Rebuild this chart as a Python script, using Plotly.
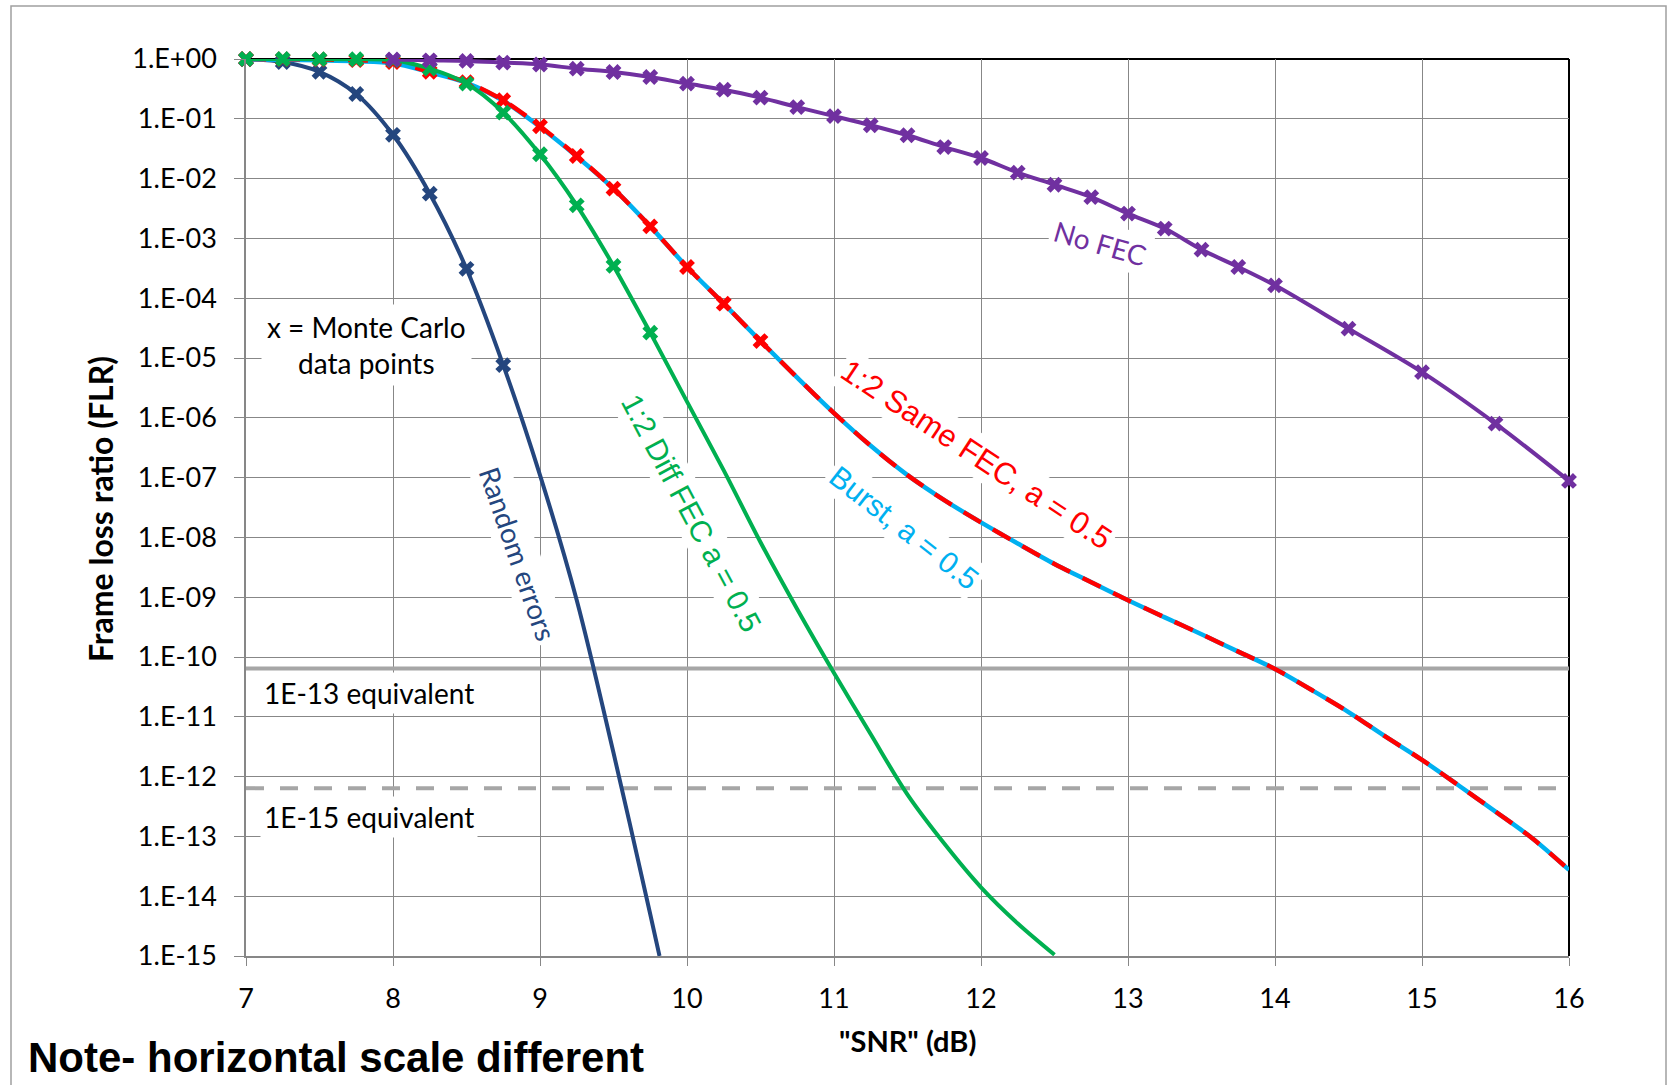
import plotly.graph_objects as go

# ---------------- data ----------------
# Analytical curves (SNR in dB, frame loss ratio)
random_snr = [7.0, 7.25, 7.5, 7.75, 8.0, 8.25, 8.5, 8.75, 9.0, 9.25, 9.5, 9.75, 9.813]
random_flr = [0.99, 0.89, 0.61, 0.26, 5.4e-2, 5.6e-3, 3.1e-4, 7.6e-6, 1.1e-7, 8.9e-10,
              2.5e-12, 5.0e-15, 1.0e-15]

diff_snr = [7.0, 7.25, 7.5, 7.75, 8.0, 8.25, 8.5, 8.75, 9.0, 9.25, 9.5, 9.75, 10.0,
            10.25, 10.5, 10.75, 11.0, 11.25, 11.5, 11.75, 12.0, 12.25, 12.5]
diff_flr = [1.0, 1.0, 0.995, 0.99, 0.955, 0.69, 0.388, 0.127, 2.55e-2, 3.57e-3, 3.47e-4,
            2.66e-5, 1.86e-6, 1.32e-7, 8.3e-9, 6.3e-10, 5.4e-11, 5.1e-12, 5.0e-13,
            7.6e-14, 1.41e-14, 3.5e-15, 1.05e-15]

same_snr = [7.0, 7.25, 7.5, 7.75, 8.0, 8.25, 8.5, 8.75, 9.0, 9.25, 9.5, 9.75, 10.0,
            10.25, 10.5, 10.75, 11.0, 11.25, 11.5, 11.75, 12.0, 12.25, 12.5, 12.75,
            13.0, 13.25, 13.5, 13.75, 14.0, 14.25, 14.5, 14.75, 15.0, 15.25, 15.5,
            15.75, 16.0]
same_flr = [1.0, 0.99, 0.98, 0.955, 0.89, 0.61, 0.41, 0.204, 7.5e-2, 2.39e-2, 6.8e-3,
            1.59e-3, 3.33e-4, 8.1e-5, 1.92e-5, 4.7e-6, 1.2e-6, 3.4e-7, 1.1e-7, 4.2e-8,
            1.78e-8, 7.9e-9, 3.6e-9, 1.78e-9, 8.9e-10, 4.6e-10, 2.4e-10, 1.23e-10,
            6.3e-11, 2.8e-11, 1.2e-11, 4.7e-12, 1.9e-12, 7.1e-13, 2.6e-13, 9.3e-14,
            2.75e-14]

burst_snr = same_snr
burst_flr = [0.99, 0.97, 0.95, 0.92, 0.85, 0.6, 0.4, 0.2, 7.3e-2, 2.35e-2, 6.8e-3,
             1.59e-3, 3.33e-4, 8.1e-5, 1.92e-5, 4.7e-6, 1.2e-6, 3.4e-7, 1.1e-7, 4.2e-8,
             1.78e-8, 7.9e-9, 3.6e-9, 1.78e-9, 8.9e-10, 4.6e-10, 2.4e-10, 1.23e-10,
             6.3e-11, 2.8e-11, 1.2e-11, 4.7e-12, 1.9e-12, 7.1e-13, 2.6e-13, 9.3e-14,
             2.75e-14]

nofec_snr = [8.0, 8.25, 8.5, 8.75, 9.0, 9.25, 9.5, 9.75, 10.0, 10.25, 10.5, 10.75, 11.0,
             11.25, 11.5, 11.75, 12.0, 12.25, 12.5, 12.75, 13.0, 13.25, 13.5, 13.75,
             14.0, 14.5, 15.0, 15.5, 16.0]
nofec_flr = [0.98, 0.95, 0.93, 0.87, 0.81, 0.69, 0.607, 0.5, 0.388, 0.307, 0.226, 0.157,
             0.111, 7.8e-2, 5.3e-2, 3.37e-2, 2.21e-2, 1.26e-2, 7.9e-3, 4.9e-3, 2.6e-3,
             1.46e-3, 6.5e-4, 3.33e-4, 1.64e-4, 3.1e-5, 5.8e-6, 8.0e-7, 8.8e-8]

# Monte Carlo data points
mc_random_snr = [7.0, 7.25, 7.5, 7.75, 8.0, 8.25, 8.5, 8.75]
mc_random_flr = [0.99, 0.89, 0.61, 0.26, 5.4e-2, 5.6e-3, 3.1e-4, 7.6e-6]

mc_diff_snr = [7.0, 7.25, 7.5, 7.75, 8.0, 8.25, 8.5, 8.75, 9.0, 9.25, 9.5, 9.75]
mc_diff_flr = [1.0, 1.0, 0.995, 0.99, 0.955, 0.69, 0.388, 0.127, 2.55e-2, 3.57e-3,
               3.47e-4, 2.66e-5]

mc_same_snr = [7.0, 7.25, 7.5, 7.75, 8.0, 8.25, 8.5, 8.75, 9.0, 9.25, 9.5, 9.75, 10.0,
               10.25, 10.5]
mc_same_flr = [1.0, 0.99, 0.98, 0.955, 0.89, 0.61, 0.41, 0.204, 7.5e-2, 2.39e-2, 6.8e-3,
               1.59e-3, 3.33e-4, 8.1e-5, 1.92e-5]

mc_nofec_snr = nofec_snr
mc_nofec_flr = nofec_flr

# Equivalent FLR thresholds
flr_1e13_equiv = 6.4e-11
flr_1e15_equiv = 6.4e-13

x_ticks = [7, 8, 9, 10, 11, 12, 13, 14, 15, 16]
y_tickvals = [1e0, 1e-1, 1e-2, 1e-3, 1e-4, 1e-5, 1e-6, 1e-7, 1e-8, 1e-9, 1e-10, 1e-11,
              1e-12, 1e-13, 1e-14, 1e-15]
y_ticktext = ["1.E+00", "1.E-01", "1.E-02", "1.E-03", "1.E-04", "1.E-05", "1.E-06",
              "1.E-07", "1.E-08", "1.E-09", "1.E-10", "1.E-11", "1.E-12", "1.E-13",
              "1.E-14", "1.E-15"]

# ---------------- style ----------------
C_RANDOM = "#24467E"
C_DIFF = "#00B050"
C_SAME = "#FF0000"
C_BURST = "#00B0F0"
C_NOFEC = "#7030A0"
C_REF = "#A6A6A6"
C_GRID = "#878787"

W, H = 1673, 1085
ML, MR, MT, MB = 246, 104, 59, 129
PW, PH = W - ML - MR, H - MT - MB

SANS = "Lato, 'Noto Sans', sans-serif"
ARIAL = "'Liberation Sans', Arial, sans-serif"


def px_x(p):
    return (p - ML) / PW


def px_y(p):
    return 1 - (p - MT) / PH


fig = go.Figure()

# threshold lines
fig.add_trace(go.Scatter(x=[x_ticks[0], x_ticks[-1]], y=[flr_1e13_equiv] * 2, mode="lines",
                         line=dict(color=C_REF, width=4), hoverinfo="skip"))
fig.add_trace(go.Scatter(x=[x_ticks[0], x_ticks[-1]], y=[flr_1e15_equiv] * 2, mode="lines",
                         line=dict(color=C_REF, width=4, dash="18px,16px"), hoverinfo="skip"))


def curve(xs, ys, color, width=4, dash=None):
    fig.add_trace(go.Scatter(x=xs, y=ys, mode="lines",
                             line=dict(color=color, width=width, shape="spline",
                                       smoothing=0.9, dash=dash)))


def points(xs, ys, color):
    fig.add_trace(go.Scatter(x=xs, y=ys, mode="markers", cliponaxis=False,
                             marker=dict(symbol="x", size=14, color=color,
                                         line=dict(width=0))))


curve(random_snr, random_flr, C_RANDOM)
points(mc_random_snr, mc_random_flr, C_RANDOM)
curve(burst_snr, burst_flr, C_BURST, width=4.5)
curve(same_snr, same_flr, C_SAME, width=4.5, dash="20px,14px")
points(mc_same_snr, mc_same_flr, C_SAME)
curve(diff_snr, diff_flr, C_DIFF)
points(mc_diff_snr, mc_diff_flr, C_DIFF)
curve(nofec_snr, nofec_flr, C_NOFEC)
points(mc_nofec_snr, mc_nofec_flr, C_NOFEC)

font_tick = dict(family=SANS, size=27, color="black")

fig.update_xaxes(range=[7, 16], tickvals=x_ticks, ticktext=[str(v) for v in x_ticks],
                 showgrid=True, gridcolor=C_GRID, gridwidth=1.3, zeroline=False,
                 showline=True, linecolor=C_GRID, linewidth=1.5,
                 ticks="outside", ticklen=8, tickcolor=C_GRID, tickwidth=1.3,
                 tickfont=font_tick, ticklabelstandoff=10)
fig.update_yaxes(type="log", range=[-15, 0], tickvals=y_tickvals, ticktext=y_ticktext,
                 showgrid=True, gridcolor=C_GRID, gridwidth=1.3, zeroline=False,
                 showline=True, linecolor=C_GRID, linewidth=1.5,
                 ticks="outside", ticklen=10, tickcolor=C_GRID, tickwidth=1.3,
                 tickfont=font_tick, ticklabelstandoff=12)

shapes = [
    # outer chart frame
    dict(type="rect", xref="paper", yref="paper", x0=px_x(11), x1=px_x(1666),
         y0=px_y(1100), y1=px_y(6), line=dict(color="#A0A0A0", width=1.5), layer="below"),
    # plot-area border (top and right)
    dict(type="line", xref="paper", yref="paper", x0=0, x1=1, y0=1, y1=1,
         line=dict(color="black", width=2), layer="between"),
    dict(type="line", xref="paper", yref="paper", x0=1, x1=1, y0=0, y1=1,
         line=dict(color="black", width=2), layer="between"),
]


def label(text, x, y, color="black", size=28, family=SANS, angle=0, bg=None,
          xanchor="center", pad=3, align="center"):
    return dict(text=text, x=px_x(x), y=px_y(y), xref="paper", yref="paper",
                showarrow=False, textangle=angle, xanchor=xanchor, yanchor="middle",
                font=dict(family=family, size=size, color=color), align=align,
                bgcolor=bg, borderpad=pad)


annotations = [
    label("<b>Frame loss ratio (FLR)</b>", 100, 509, size=32, angle=-90),
    label("<b>\"SNR\" (dB)</b>", 907, 1040, size=29),
    label("<b>Note- horizontal scale different</b>", 24, 1057, size=42, family=ARIAL,
          xanchor="left"),
    label("x = Monte Carlo<br>data points", 366, 345, bg="white", pad=5),
    label("1E-13 equivalent", 260, 693, bg="white", xanchor="left"),
    label("1E-15 equivalent", 260, 817, bg="white", xanchor="left"),
    label("Random errors", 518, 553, color=C_RANDOM, angle=71, bg="white"),
    label("1:2 Diff FEC a = 0.5", 692, 513, color=C_DIFF, size=30, family=ARIAL,
          angle=62, bg="white"),
    label("1:2 Same FEC, a = 0.5", 976, 455, color=C_SAME, size=31, family=ARIAL,
          angle=33.4, bg="white"),
    label("Burst, a = 0.5", 904, 527, color=C_BURST, size=30, family=ARIAL,
          angle=38, bg="white"),
    label("No FEC", 1100, 243, color=C_NOFEC, size=28, angle=16, bg="white"),
]

fig.update_layout(width=W, height=H, margin=dict(l=ML, r=MR, t=MT, b=MB),
                  paper_bgcolor="white", plot_bgcolor="white", showlegend=False,
                  shapes=shapes, annotations=annotations)

fig.write_html("out.html")
